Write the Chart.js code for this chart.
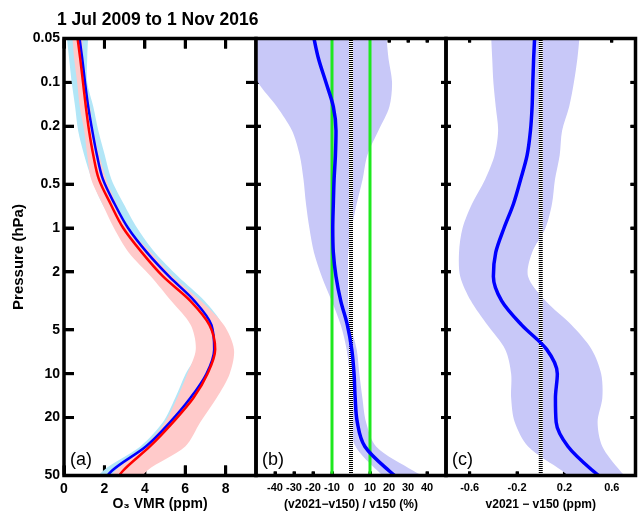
<!DOCTYPE html>
<html>
<head>
<meta charset="utf-8">
<script src="https://cdn.jsdelivr.net/npm/chart.js@4/dist/chart.umd.min.js"></script>
<style>
  html, body { margin: 0; padding: 0; background: #fff; }
  #wrap { position: relative; width: 638px; height: 517px; }
  canvas { position: absolute; left: 0; top: 0; }
</style>
</head>
<body>
<div id="wrap">
  <canvas id="panelA" width="638" height="517"></canvas>
  <canvas id="panelB" width="638" height="517"></canvas>
  <canvas id="panelC" width="638" height="517"></canvas>
</div>
<script>
const FONT = "'Liberation Sans', Arial, Helvetica, sans-serif";
const title = '1 Jul 2009 to 1 Nov 2016';

// pressure levels (hPa)
const pressure = [0.0464, 0.0681, 0.1, 0.147, 0.215, 0.316, 0.464, 0.681, 1, 1.47,
                  2.15, 3.16, 4.64, 6.81, 10, 14.7, 21.5, 31.6, 46.4, 68.1];
const yTicks = [0.05, 0.1, 0.2, 0.5, 1, 2, 5, 10, 20, 50];

// (a) ozone VMR profiles (ppm)
const o3V150 = [0.74, 0.9, 1.04, 1.2, 1.4, 1.63, 1.93, 2.5, 3.17, 4.1,
                5.2, 6.45, 7.3, 7.43, 7.05, 6.25, 5.25, 4.05, 2.37, 1.5];
const o3V150Lo = [0.12, 0.25, 0.38, 0.55, 0.7, 1.0, 1.38, 1.89, 2.64, 3.5,
                  4.5, 5.6, 6.5, 6.67, 6.02, 5.5, 4.9, 3.78, 1.94, 1.1];
const o3V150Hi = [1.2, 1.15, 1.15, 1.45, 1.7, 2.02, 2.35, 2.95, 3.62, 4.5,
                  5.65, 6.95, 7.85, 8.1, 7.9, 7.3, 6.5, 5.4, 3.3, 2.2];
const o3V2021 = [0.64, 0.8, 0.94, 1.08, 1.24, 1.45, 1.73, 2.3, 2.93, 3.85,
                 4.9, 6.25, 7.2, 7.48, 7.1, 6.4, 5.4, 4.25, 2.92, 2.1];
const o3V2021Lo = [0.4, 0.5, 0.65, 0.78, 1.0, 1.15, 1.35, 1.9, 2.47, 3.2,
                   4.3, 5.3, 6.27, 6.52, 6.1, 5.6, 5.0, 4.0, 2.54, 1.7];
const o3V2021Hi = [0.9, 0.95, 1.07, 1.29, 1.46, 1.75, 2.1, 2.6, 3.2, 4.3,
                   5.4, 6.77, 7.91, 8.41, 8.2, 7.55, 6.75, 6.0, 4.11, 3.2];

// (b) relative difference (%)
const pctDiff = [-20, -17.2, -13.2, -9.3, -7.9, -8.2, -8.9, -9.3, -9.6, -9.3,
                 -7.9, -5.4, -1.9, 0.4, 1.6, 2.2, 3.3, 7.3, 20, 36];
const pctLo = [-60, -54, -49, -39, -31, -27, -25, -23.7, -21.9, -19.5,
               -15.4, -10.2, -5.4, -2.3, -0.9, -1.2, -0.5, 2.4, 14, 30];
const pctHi = [18.5, 19.7, 21.6, 20.2, 14.4, 8.6, 6.1, 3, 0.4, -1.4,
               -1.5, -1.5, -0.2, 3, 4.4, 6, 7.9, 13.2, 32.8, 55];
const pctLimits = [-10, 10];

// (c) absolute difference (ppm)
const ppmDiff = [-0.05, -0.06, -0.067, -0.073, -0.087, -0.115, -0.17, -0.23, -0.31, -0.38,
                 -0.40, -0.33, -0.16, 0.05, 0.14, 0.124, 0.13, 0.23, 0.44, 0.7];
const ppmLo = [-0.42, -0.41, -0.40, -0.38, -0.36, -0.39, -0.47, -0.58, -0.66, -0.69,
               -0.68, -0.59, -0.45, -0.30, -0.25, -0.25, -0.22, -0.107, 0.18, 0.45];
const ppmHi = [0.33, 0.31, 0.28, 0.24, 0.18, 0.16, 0.12, 0.095, 0.04, -0.073,
               -0.107, 0.04, 0.26, 0.43, 0.51, 0.52, 0.48, 0.52, 0.67, 0.85];

const xTicksA = [0, 2, 4, 6, 8];
const xTicksB = [-40, -30, -20, -10, 0, 10, 20, 30, 40];
const xTicksC = [-0.6, -0.2, 0.2, 0.6];

function profile(values) {
    return values.map((v, i) => ({ x: v, y: pressure[i] }));
}
function band(lo, hi) {
    return profile(lo).concat(profile(hi).reverse());
}
function refLine(v) {
    return [{ x: v, y: yTicks[0] }, { x: v, y: yTicks[yTicks.length - 1] }];
}

// tick marks drawn by the axis itself; a negative length points them into the box
function tickGrid(len) {
    return { display: true, drawOnChartArea: false, drawTicks: true,
             tickLength: -len, tickWidth: 3, tickColor: '#000' };
}

// box, inward ticks, panel letter and page title (settings kept in a closure)
function framePlugin(f) {
    return {
        id: 'frame',
        beforeDatasetsDraw(chart) {
            const ctx = chart.ctx;
            const a = chart.chartArea;
            const x = chart.scales.x;
            const y = chart.scales.y;
            ctx.save();
            ctx.fillStyle = '#000';
            for (const v of yTicks) {
                const py = y.getPixelForValue(v);
                ctx.fillRect(a.left, py - 1.5, f.yTick, 3);
                ctx.fillRect(a.right - f.yTick, py - 1.5, f.yTick, 3);
            }
            for (const v of f.xTicks) {
                const px = x.getPixelForValue(v);
                ctx.fillRect(px - 1.5, a.bottom - f.xTick, 3, f.xTick);
                ctx.fillRect(px - 1.5, a.top, 3, f.xTick);
            }
            ctx.restore();
        },
        afterDatasetsDraw(chart) {
            const ctx = chart.ctx;
            const a = chart.chartArea;
            ctx.save();
            ctx.strokeStyle = '#000';
            ctx.lineWidth = 3.5;
            ctx.strokeRect(a.left, a.top, a.right - a.left, a.bottom - a.top);
            ctx.fillStyle = '#000';
            ctx.textBaseline = 'alphabetic';
            ctx.font = '18px ' + FONT;
            ctx.fillText(f.label, a.left + 6, 465);
            if (f.title) {
                ctx.font = 'bold 17.5px ' + FONT;
                ctx.fillText(f.title, 57, 25);
            }
            ctx.restore();
        }
    };
}

function makePanel(id, cfg) {
    const f = Object.assign({ xTicks: cfg.xTicks }, cfg.frame);
    const setX = axis => { axis.ticks = cfg.xTicks.map(v => ({ value: v })); };
    const setY = axis => { axis.ticks = yTicks.map(v => ({ value: v })); };
    const yBase = {
        type: 'logarithmic', reverse: true,
        min: yTicks[0], max: yTicks[yTicks.length - 1],
        afterBuildTicks: setY,
        grid: tickGrid(f.yTick),
        border: { display: false }
    };
    const xBase = {
        type: 'linear', min: cfg.xMin, max: cfg.xMax,
        afterBuildTicks: setX,
        grid: tickGrid(f.xTick),
        border: { display: false }
    };
    return new Chart(document.getElementById(id), {
        type: 'line',
        data: { datasets: cfg.datasets },
        options: {
            responsive: false,
            animation: false,
            indexAxis: 'y',
            layout: { padding: cfg.padding },
            elements: { point: { radius: 0 } },
            plugins: {
                legend: { display: false },
                tooltip: { enabled: false }
            },
            scales: {
                x: {
                    ...xBase,
                    position: 'bottom',
                    afterFit: axis => { axis.height = 41.5; },
                    ticks: {
                        autoSkip: false, maxRotation: 0, padding: cfg.xPad + f.xTick, color: '#000',
                        font: { family: FONT, size: cfg.xFont, weight: 'bold' },
                        callback: v => String(v)
                    },
                    title: {
                        display: true, text: cfg.xTitle, color: '#000',
                        font: { family: FONT, size: cfg.xTitleFont, weight: 'bold' },
                        padding: { top: 0, bottom: cfg.xTitlePad }
                    }
                },
                y: {
                    ...yBase,
                    position: 'left',
                    afterFit: axis => { axis.width = cfg.yWidth; },
                    ticks: {
                        display: cfg.yWidth > 0, autoSkip: false, padding: 4 + f.yTick, color: '#000',
                        font: { family: FONT, size: 14, weight: 'bold' },
                        callback: v => String(v)
                    },
                    title: {
                        display: cfg.yWidth > 0, text: 'Pressure (hPa)', color: '#000',
                        font: { family: FONT, size: 15, weight: 'bold' },
                        padding: { top: 10, bottom: 0 }
                    }
                },
                x2: {
                    ...xBase,
                    position: 'top',
                    afterFit: axis => { axis.height = 0; },
                    ticks: { display: false, autoSkip: false },
                    title: { display: false }
                },
                y2: {
                    ...yBase,
                    position: 'right',
                    afterFit: axis => { axis.width = 0; },
                    ticks: { display: false, autoSkip: false },
                    title: { display: false }
                }
            }
        },
        plugins: [framePlugin(f)]
    });
}

const lineStyle = { fill: false, cubicInterpolationMode: 'monotone', pointRadius: 0, xAxisID: 'x', yAxisID: 'y' };
const bandStyle = { fill: 'shape', borderWidth: 0, borderColor: 'transparent', tension: 0.3, pointRadius: 0, xAxisID: 'x', yAxisID: 'y' };
const refStyle = { fill: false, pointRadius: 0, tension: 0, xAxisID: 'x', yAxisID: 'y' };
const dotStyle = { ...refStyle, borderColor: '#000', borderWidth: 4, borderDash: [1, 1], borderDashOffset: 0.5 };

// Panel (a)
makePanel('panelA', {
    padding: { left: 0, right: 382, top: 38.5, bottom: 0 },
    yWidth: 64,
    xMin: 0, xMax: 9.5, xTicks: xTicksA, xPad: 5, xFont: 14,
    xTitle: 'O\u2083 VMR (ppm)', xTitleFont: 14, xTitlePad: 4,
    frame: { yTick: 10, xTick: 10, label: '(a)', title: title },
    datasets: [
        { ...lineStyle, label: 'v2021', data: profile(o3V2021), borderColor: '#ff0000', borderWidth: 2.5 },
        { ...lineStyle, label: 'v150', data: profile(o3V150), borderColor: '#0000ff', borderWidth: 2.5 },
        { ...bandStyle, label: 'v2021 spread', data: band(o3V2021Lo, o3V2021Hi), backgroundColor: '#ffcaca' },
        { ...bandStyle, label: 'v150 spread', data: band(o3V150Lo, o3V150Hi), backgroundColor: '#b2e6f7' }
    ]
});

// Panel (b)
makePanel('panelB', {
    padding: { left: 256, right: 192, top: 38.5, bottom: 0 },
    yWidth: 0,
    xMin: -50, xMax: 50, xTicks: xTicksB, xPad: 6, xFont: 11,
    xTitle: '(v2021\u2212v150) / v150 (%)', xTitleFont: 12, xTitlePad: 5,
    frame: { yTick: 5, xTick: 4, label: '(b)' },
    datasets: [
        { ...lineStyle, label: 'mean diff', data: profile(pctDiff), borderColor: '#0000ff', borderWidth: 3.5 },
        { ...dotStyle, label: 'zero', data: refLine(0) },
        { ...refStyle, label: 'zero bg', data: refLine(0), borderColor: '#fff', borderWidth: 4 },
        { ...refStyle, label: '-10%', data: refLine(pctLimits[0]), borderColor: '#1ee81e', borderWidth: 3 },
        { ...refStyle, label: '+10%', data: refLine(pctLimits[1]), borderColor: '#1ee81e', borderWidth: 3 },
        { ...bandStyle, label: 'spread', data: band(pctLo, pctHi), backgroundColor: '#c8c8f8' }
    ]
});

// Panel (c)
makePanel('panelC', {
    padding: { left: 446, right: 2.5, top: 38.5, bottom: 0 },
    yWidth: 0,
    xMin: -0.8, xMax: 0.8, xTicks: xTicksC, xPad: 6, xFont: 11,
    xTitle: 'v2021 \u2212 v150 (ppm)', xTitleFont: 12, xTitlePad: 5,
    frame: { yTick: 5, xTick: 4, label: '(c)' },
    datasets: [
        { ...lineStyle, label: 'mean diff', data: profile(ppmDiff), borderColor: '#0000ff', borderWidth: 3.5 },
        { ...dotStyle, label: 'zero', data: refLine(0) },
        { ...refStyle, label: 'zero bg', data: refLine(0), borderColor: '#fff', borderWidth: 4 },
        { ...bandStyle, label: 'spread', data: band(ppmLo, ppmHi), backgroundColor: '#c8c8f8' }
    ]
});
</script>
</body>
</html>
